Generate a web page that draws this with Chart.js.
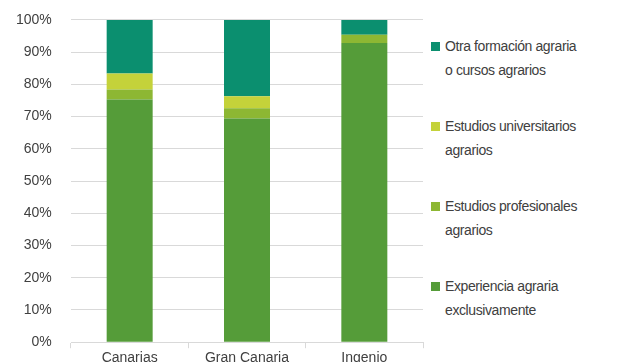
<!DOCTYPE html>
<html>
<head>
<meta charset="utf-8">
<script src="https://cdn.jsdelivr.net/npm/chart.js@4/dist/chart.umd.min.js"></script>
<style>
  html, body { margin: 0; padding: 0; background: #fff; overflow: hidden; width: 621px; height: 362px; }
  #c { position: absolute; left: 0; top: 0; }
  #legend { position: absolute; left: 431px; top: 0; font-family: "Liberation Sans", Arial, sans-serif; font-size: 14px; color: #404040; letter-spacing: -0.4px; }
  .item { position: absolute; left: 0; width: 190px; line-height: 24px; padding-left: 14px; white-space: nowrap; }
  .box { position: absolute; left: 0; top: 8px; width: 9px; height: 9px; }
</style>
</head>
<body>
<canvas id="c" width="425" height="369"></canvas>
<div id="legend"></div>
<script>
const categories = ["Canarias", "Gran Canaria", "Ingenio"];
const experiencia = [75.3, 69.4, 92.8];
const profesionales = [3.1, 3.2, 2.6];
const universitarios = [5.0, 3.7, 0];
const otra = [16.6, 23.7, 4.6];

const seriesNames = [
  ["Experiencia agraria", "exclusivamente"],
  ["Estudios profesionales", "agrarios"],
  ["Estudios universitarios", "agrarios"],
  ["Otra formación agraria", "o cursos agrarios"],
];
const colors = ["#559c39", "#8db733", "#c4d23a", "#0b8f6f"];
const seriesData = [experiencia, profesionales, universitarios, otra];

const ctx = document.getElementById("c");
new Chart(ctx, {
  type: "bar",
  data: {
    labels: categories,
    datasets: seriesData.map((d, i) => ({
      label: seriesNames[i].join(" "),
      data: d,
      backgroundColor: colors[i],
      borderWidth: 0,
      barPercentage: 0.784,
      categoryPercentage: 0.5,
    })),
  },
  options: {
    responsive: false,
    animation: false,
    layout: { padding: { top: 0, right: 2, left: 4, bottom: 0 } },
    plugins: {
      legend: { display: false },
      tooltip: { enabled: false },
    },
    scales: {
      x: {
        stacked: true,
        grid: {
          offset: true,
          drawOnChartArea: false,
          color: "#d9d9d9",
          tickLength: 6,
        },
        border: { color: "#d9d9d9" },
        ticks: {
          color: "#404040",
          font: { family: "Liberation Sans", size: 14 },
          padding: 2,
        },
      },
      y: {
        stacked: true,
        min: 0,
        max: 100,
        grid: { color: "#d9d9d9", drawTicks: false },
        border: { display: false },
        // fixed width so the plot starts where the original does
        afterFit: (s) => { s.width = 67; },
        ticks: {
          stepSize: 10,
          color: "#404040",
          font: { family: "Liberation Sans", size: 14 },
          padding: 11.5,
          callback: (v) => v + "%  ",
        },
      },
    },
  },
});

// legend drawn as html, top item is the last series like in the original
const legend = document.getElementById("legend");
const order = [3, 2, 1, 0];
order.forEach((s, k) => {
  const div = document.createElement("div");
  div.className = "item";
  div.style.top = 34 + k * 80 + "px";
  div.innerHTML = '<span class="box" style="background:' + colors[s] + '"></span>' +
    seriesNames[s][0] + "<br>" + seriesNames[s][1];
  legend.appendChild(div);
});
</script>
</body>
</html>
